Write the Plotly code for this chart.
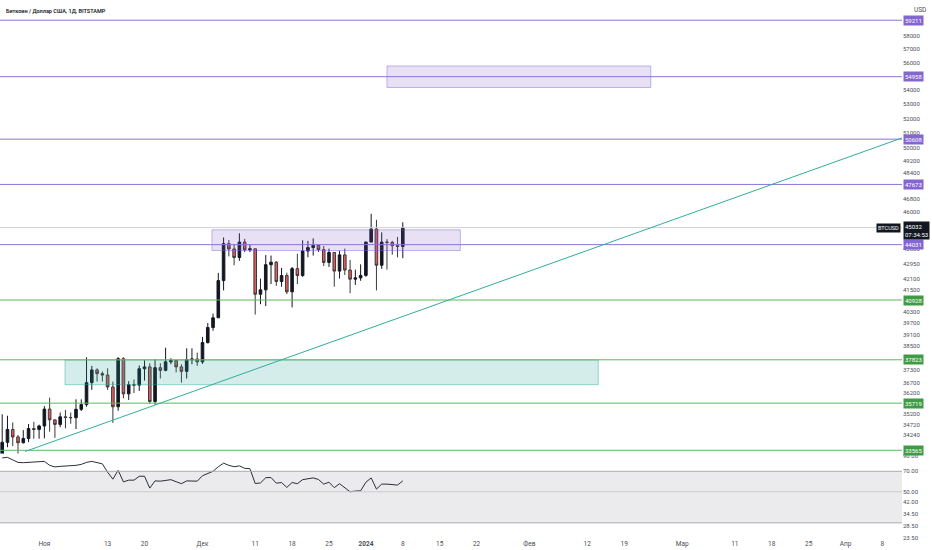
import math
import pandas as pd
import plotly.graph_objects as go

# daily candles, BTC/USD Bitstamp, 24 Oct 2023 .. 8 Jan 2024
dates = pd.date_range("2023-10-24", "2024-01-08", freq="D")
opens = [33080, 33920, 34500, 34160, 33900, 34090, 34540, 34500, 34660, 35440,
         34940, 34730, 35080, 35050, 35040, 35430, 35650, 36700, 37320, 37140,
         37070, 36490, 35550, 37880, 36160, 36600, 36580, 37380, 37470, 35800,
         37430, 37300, 37720, 37790, 37470, 37250, 37830, 37860, 37720, 38690,
         39470, 39980, 41990, 44090, 43780, 43290, 44180, 43730, 43790, 41240,
         41480, 42880, 43020, 41940, 42270, 41370, 42660, 42270, 43660, 43860,
         43990, 43740, 43010, 43580, 42520, 43440, 42580, 42070, 42140, 42280,
         44180, 44950, 42850, 44180, 44160, 43970, 43930]
highs = [35200, 35130, 34820, 34250, 34470, 34750, 34850, 34720, 35580, 35980,
         34950, 35280, 35400, 35280, 35900, 35900, 37950, 37520, 37400, 37250,
         37400, 36750, 37950, 37950, 36770, 36850, 37540, 37800, 37650, 37850,
         37650, 38430, 37900, 37820, 37600, 38400, 38400, 38180, 38980, 39700,
         40200, 42420, 44450, 44300, 44050, 44700, 44370, 44050, 43800, 42100,
         43430, 43400, 43090, 42700, 42430, 42750, 43500, 44280, 44250, 44400,
         44020, 43950, 43800, 43600, 43680, 43800, 43150, 42600, 42900, 44200,
         45860, 45500, 44750, 44350, 44250, 44480, 45350]
lows = [32880, 33700, 33750, 33400, 33870, 33930, 34080, 34080, 34100, 34400,
        34120, 34600, 34550, 34760, 34520, 35350, 35550, 36350, 36750, 36750,
        36350, 34800, 35360, 35950, 35870, 36200, 36300, 36800, 35700, 35650,
        36900, 37250, 37600, 37200, 36700, 36900, 37600, 37520, 37620, 38650,
        39300, 39980, 41450, 43350, 42850, 43100, 43600, 43600, 40150, 40700,
        40600, 41800, 41700, 41650, 41250, 40530, 41800, 42200, 43300, 43400,
        43600, 42800, 42750, 41650, 42100, 42300, 41300, 41750, 41980, 42200,
        44180, 41450, 42650, 42600, 43450, 43300, 43250]
closes = [33920, 34500, 34160, 33900, 34090, 34540, 34500, 34660, 35440, 34940,
          34730, 35080, 35050, 35040, 35430, 35650, 36700, 37320, 37140, 37070,
          36490, 35550, 37880, 36160, 36600, 36580, 37380, 37470, 35800, 37430,
          37300, 37720, 37790, 37470, 37250, 37830, 37860, 37720, 38690, 39470,
          39980, 41990, 44090, 43780, 43290, 44180, 43730, 43790, 41240, 41480,
          42880, 43020, 41940, 42270, 41370, 42660, 42270, 43660, 43860, 43990,
          43740, 43010, 43580, 42520, 43440, 42580, 42070, 42140, 42280, 44180,
          44950, 42850, 44180, 44160, 43970, 43930, 45032]

# RSI pane values
rsi = [87.2, 88.0, 84.4, 81.0, 80.6, 81.3, 81.4, 81.7, 82.4, 77.2,
       75.2, 75.9, 76.3, 76.5, 77.2, 78.4, 81.0, 82.4, 81.0, 79.1,
       68.9, 61.5, 71.1, 58.8, 60.5, 60.5, 64.5, 64.5, 53.1, 59.8,
       59.5, 60.5, 61.0, 59.0, 57.1, 59.8, 59.5, 59.5, 65.1, 67.8,
       70.0, 75.4, 80.0, 77.2, 75.4, 76.5, 73.5, 73.1, 57.3, 57.8,
       63.0, 63.2, 57.6, 58.2, 53.7, 58.2, 57.1, 61.0, 62.0, 62.8,
       61.2, 56.7, 58.5, 53.5, 57.1, 53.5, 50.0, 50.6, 50.8, 58.5,
       62.8, 52.3, 56.7, 56.7, 56.2, 55.8, 59.8]

# drawn levels and zones
purple_levels = [59211, 54958, 50608, 47673, 44031]
green_levels = [40928, 37823, 35719, 33565]
purple_zones = [("2024-01-05 00:00", "2024-02-24 01:00", 54180, 55740),
                ("2023-12-02 19:00", "2024-01-18 22:00", 43690, 44900)]
green_zones = [("2023-11-04 22:00", "2024-02-14 02:00", 36600, 37810)]
trend_x = ["2023-10-28 08:00", "2024-04-11 17:00"]
trend_y = [33510, 50690]
last_price = 45032

price_ticks = [58000, 57000, 56000, 54000, 53000, 52000, 51000, 50000, 49200,
               48400, 46800, 46000, 43800, 42950, 42100, 41500,
               40300, 39700, 39100, 38500, 37300, 36700, 36200, 35200, 34720, 34240]
rsi_ticks = [90, 70, 50, 42, 34.5, 28.5, 23.5]
x_tick_dates = ["2023-11-01", "2023-11-13", "2023-11-20", "2023-12-01", "2023-12-11",
                "2023-12-18", "2023-12-25", "2024-01-01", "2024-01-08", "2024-01-15",
                "2024-01-22", "2024-02-01", "2024-02-12", "2024-02-19", "2024-03-01",
                "2024-03-11", "2024-03-18", "2024-03-25", "2024-04-01", "2024-04-08"]
x_tick_text = ["Ноя", "13", "20", "Дек", "11", "18", "25", "<b>2024</b>", "8", "15",
               "22", "Фев", "12", "19", "Мар", "11", "18", "25", "Апр", "8"]

PURPLE = "#8c74d4"
PURPLE_TAG = "#8466d0"
GREEN = "#5cb85f"
GREEN_TAG = "#3f9c45"
AXIS_TXT = "#4a4e59"

fig = go.Figure()

fig.add_trace(go.Candlestick(
    x=dates, open=opens, high=highs, low=lows, close=closes,
    increasing=dict(line=dict(color="#131722", width=1), fillcolor="#131722"),
    decreasing=dict(line=dict(color="#3a3a3a", width=1), fillcolor="#e8575b"),
    whiskerwidth=0, showlegend=False, name="BTCUSD",
))

fig.add_trace(go.Scatter(
    x=dates, y=rsi, yaxis="y2", mode="lines",
    line=dict(color="#2a2e39", width=1), showlegend=False, name="RSI",
))

shapes = []
# RSI band and its lines
shapes.append(dict(type="rect", xref="x domain", x0=0, x1=1, yref="y2", y0=30, y1=70,
                   fillcolor="rgba(120,123,134,0.15)", line=dict(width=0), layer="below"))
for v, c in [(70, "#a9abb3"), (50, "#c9cbd1"), (30, "#a9abb3")]:
    shapes.append(dict(type="line", xref="x domain", x0=0, x1=1, yref="y2", y0=v, y1=v,
                       line=dict(color=c, width=1)))

# zones
for x0, x1, lo, hi in purple_zones:
    shapes.append(dict(type="rect", xref="x", yref="y", x0=x0, x1=x1, y0=lo, y1=hi,
                       fillcolor="rgba(126,87,194,0.18)",
                       line=dict(color="rgba(126,100,210,0.45)", width=1)))
for x0, x1, lo, hi in green_zones:
    shapes.append(dict(type="rect", xref="x", yref="y", x0=x0, x1=x1, y0=lo, y1=hi,
                       fillcolor="rgba(38,166,154,0.2)",
                       line=dict(color="rgba(38,166,154,0.45)", width=1)))

# current price line
shapes.append(dict(type="line", xref="x domain", x0=0, x1=1, yref="y",
                   y0=last_price, y1=last_price, line=dict(color="#cfd0d4", width=1)))

# horizontal levels
for v in purple_levels:
    shapes.append(dict(type="line", xref="x domain", x0=0, x1=1, yref="y", y0=v, y1=v,
                       line=dict(color=PURPLE, width=1)))
for v in green_levels:
    shapes.append(dict(type="line", xref="x domain", x0=0, x1=1, yref="y", y0=v, y1=v,
                       line=dict(color=GREEN, width=1)))

# trend line
shapes.append(dict(type="line", xref="x", yref="y", x0=trend_x[0], x1=trend_x[1],
                   y0=trend_y[0], y1=trend_y[1], line=dict(color="#2fae9b", width=1)))

annotations = []
for v in purple_levels:
    annotations.append(dict(xref="paper", x=1, xanchor="left", xshift=1,
                            yref="y", y=math.log10(v), text=str(v), showarrow=False,
                            font=dict(size=6, color="white"), bgcolor=PURPLE_TAG, borderpad=1))
for v in green_levels:
    annotations.append(dict(xref="paper", x=1, xanchor="left", xshift=1,
                            yref="y", y=math.log10(v), text=str(v), showarrow=False,
                            font=dict(size=6, color="white"), bgcolor=GREEN_TAG, borderpad=1))

annotations.append(dict(xref="paper", x=1, xanchor="left", xshift=1, yref="y",
                        y=math.log10(last_price), yshift=-3, showarrow=False,
                        text=f"{last_price}<br>07:34:53", align="left",
                        font=dict(size=6, color="white"), bgcolor="#131722", borderpad=1))
annotations.append(dict(xref="paper", x=1, xanchor="right", xshift=-1, yref="y",
                        y=math.log10(last_price), showarrow=False, text="BTCUSD",
                        font=dict(size=5.5, color="white"), bgcolor="#131722", borderpad=1))
annotations.append(dict(xref="paper", yref="paper", x=1, y=1, xanchor="left", yanchor="top",
                        xshift=10, yshift=-1, showarrow=False, text="USD",
                        font=dict(size=6.5, color=AXIS_TXT)))
annotations.append(dict(xref="paper", yref="paper", x=0, y=1, xanchor="left", yanchor="top",
                        xshift=4, yshift=-3, showarrow=False,
                        text="Биткоин / Доллар США, 1Д, BITSTAMP",
                        font=dict(size=5.5, color="#131722", weight=600)))

fig.update_layout(
    width=932, height=550,
    margin=dict(l=0, r=30, t=0, b=12),
    paper_bgcolor="white", plot_bgcolor="white",
    font=dict(family="Roboto, Arial, sans-serif"),
    showlegend=False,
    shapes=shapes, annotations=annotations,
    xaxis=dict(type="date", anchor="y2", domain=[0, 1],
               range=["2023-10-23 14:00", "2024-04-11 17:00"],
               rangeslider=dict(visible=False), showgrid=False, zeroline=False,
               showline=False, ticks="", tickvals=x_tick_dates, ticktext=x_tick_text,
               tickfont=dict(size=6.5, color=AXIS_TXT)),
    yaxis=dict(type="log", domain=[0.158, 1], side="right",
               range=[math.log10(33424), math.log10(60571)],
               showgrid=False, zeroline=False, showline=False, ticks="",
               tickvals=price_ticks, ticktext=[str(t) for t in price_ticks],
               tickfont=dict(size=6, color=AXIS_TXT)),
    yaxis2=dict(type="log", domain=[0, 0.1543], side="right", anchor="x",
                range=[math.log10(23.4), math.log10(90.8)],
                showgrid=False, zeroline=False, showline=False, ticks="",
                tickvals=rsi_ticks, ticktext=[f"{t:.2f}" for t in rsi_ticks],
                tickfont=dict(size=6, color=AXIS_TXT)),
)

# drop the browser's default page margin so the 932x550 figure fills the window
fig.write_html("out.html", config={"displayModeBar": False},
               post_script="document.body.style.margin='0';")
